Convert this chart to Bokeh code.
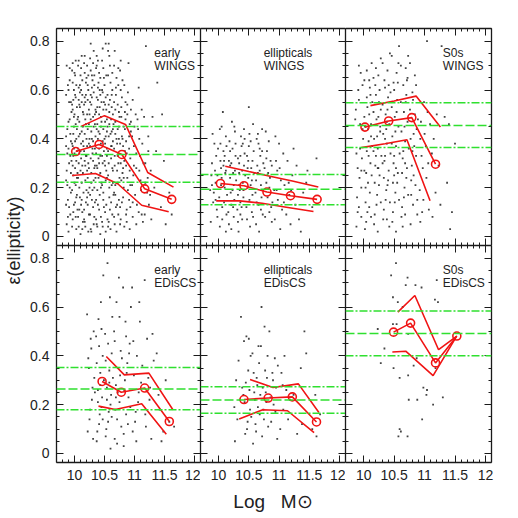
import numpy as np
from bokeh.plotting import figure
from bokeh.models import LinearAxis, FixedTicker, Span, Label
from bokeh.layouts import row, column
from bokeh.core.properties import value
from bokeh.embed import file_html
from bokeh.resources import INLINE

# ---------------- data ----------------
morph_types = ["early", "ellipticals", "S0s"]
surveys = ["WINGS", "EDisCS"]
x_ticks = [10, 10.5, 11, 11.5, 12]
x_tick_labels = ["10", "10.5", "11", "11.5", "12"]
y_ticks = [0, 0.2, 0.4, 0.6, 0.8]
y_tick_labels = ["0", "0.2", "0.4", "0.6", "0.8"]
x_title = "Log\u00a0\u00a0\u00a0M\u2299"
y_title = "\u03b5(ellipticity)"

# individual galaxies (log mass, ellipticity)
pts_early_wings = [
 (9.87,.05),(9.91,.12),(9.88,.21),(9.93,.33),(9.86,.41),(9.90,.47),(9.94,.55),(9.89,.62),(9.92,.69),(9.87,.27),(9.94,.18),(9.90,.36),(9.86,.58),(9.93,.09),(9.88,.44),(9.91,.30),(9.95,.51),(9.89,.15),(9.92,.64),(9.86,.23),(9.94,.39),(9.90,.02),
 (9.97,.07),(10.01,.14),(9.98,.25),(10.03,.31),(9.96,.38),(10.02,.46),(10.04,.53),(9.99,.60),(10.00,.67),(9.97,.71),(10.03,.03),(9.96,.19),(10.01,.28),(10.04,.35),(9.98,.42),(10.02,.57),(9.99,.49),(10.05,.11),(9.97,.63),(10.00,.22),(10.03,.40),(9.96,.54),(10.04,.17),(9.98,.33),(10.01,.66),(10.02,.08),(9.99,.45),(10.05,.26),(9.97,.37),(10.00,.50),
 (10.07,.04),(10.11,.13),(10.08,.20),(10.13,.29),(10.06,.36),(10.12,.43),(10.14,.51),(10.09,.59),(10.10,.66),(10.07,.72),(10.13,.10),(10.06,.24),(10.11,.32),(10.14,.39),(10.08,.47),(10.12,.55),(10.09,.62),(10.15,.18),(10.07,.41),(10.10,.27),(10.13,.58),(10.06,.49),(10.14,.06),(10.08,.34),(10.11,.69),(10.12,.15),(10.09,.53),(10.15,.37),(10.07,.61),(10.10,.01),
 (10.17,.06),(10.21,.16),(10.18,.23),(10.23,.30),(10.16,.35),(10.22,.44),(10.24,.52),(10.19,.58),(10.20,.65),(10.17,.74),(10.23,.02),(10.16,.11),(10.21,.27),(10.24,.38),(10.18,.48),(10.22,.56),(10.19,.63),(10.25,.20),(10.17,.42),(10.20,.33),(10.23,.60),(10.16,.54),(10.24,.09),(10.18,.29),(10.21,.70),(10.22,.13),(10.19,.46),(10.25,.40),(10.17,.67),(10.20,.19),
 (10.27,.03),(10.31,.12),(10.28,.22),(10.33,.28),(10.26,.37),(10.32,.45),(10.34,.50),(10.29,.57),(10.30,.64),(10.27,.79),(10.33,.08),(10.26,.17),(10.31,.31),(10.34,.36),(10.28,.43),(10.32,.59),(10.29,.66),(10.35,.24),(10.27,.48),(10.30,.34),(10.33,.62),(10.26,.55),(10.34,.14),(10.28,.26),(10.31,.71),(10.32,.05),(10.29,.40),(10.35,.52),(10.27,.68),(10.30,.19),
 (10.37,.05),(10.41,.11),(10.38,.19),(10.43,.26),(10.36,.34),(10.42,.42),(10.44,.49),(10.39,.56),(10.40,.63),(10.37,.70),(10.43,.01),(10.36,.15),(10.41,.30),(10.44,.38),(10.38,.46),(10.42,.53),(10.39,.61),(10.45,.22),(10.37,.44),(10.40,.32),(10.43,.58),(10.36,.51),(10.44,.08),(10.38,.28),(10.41,.67),(10.42,.17),(10.39,.40),(10.45,.47),(10.37,.74),(10.40,.24),
 (10.47,.04),(10.51,.10),(10.48,.18),(10.53,.27),(10.46,.33),(10.52,.41),(10.54,.48),(10.49,.55),(10.50,.62),(10.47,.77),(10.53,.13),(10.46,.21),(10.51,.29),(10.54,.36),(10.48,.44),(10.52,.57),(10.49,.65),(10.55,.07),(10.47,.39),(10.50,.31),(10.53,.52),(10.46,.60),(10.54,.24),(10.48,.69),(10.51,.47),(10.52,.02),(10.49,.35),(10.55,.58),
 (10.57,.06),(10.61,.14),(10.58,.20),(10.63,.28),(10.56,.35),(10.62,.43),(10.64,.50),(10.59,.56),(10.60,.63),(10.57,.79),(10.63,.09),(10.56,.25),(10.61,.32),(10.64,.39),(10.58,.46),(10.62,.53),(10.59,.70),(10.65,.17),(10.57,.41),(10.60,.03),(10.63,.60),(10.56,.66),(10.64,.22),(10.58,.74),(10.61,.48),(10.62,.37),
 (10.67,.05),(10.71,.13),(10.68,.21),(10.73,.30),(10.66,.36),(10.72,.44),(10.74,.51),(10.69,.58),(10.70,.65),(10.67,.76),(10.73,.09),(10.66,.18),(10.71,.27),(10.74,.40),(10.68,.47),(10.72,.54),(10.69,.61),(10.75,.24),(10.67,.33),(10.70,.02),(10.73,.69),(10.66,.55),(10.74,.15),(10.68,.42),
 (10.77,.07),(10.81,.16),(10.78,.23),(10.83,.31),(10.76,.38),(10.82,.45),(10.84,.51),(10.79,.57),(10.80,.64),(10.77,.72),(10.83,.04),(10.76,.12),(10.81,.28),(10.84,.35),(10.78,.49),(10.82,.20),(10.79,.41),(10.85,.55),(10.77,.60),(10.80,.26),
 (10.87,.06),(10.91,.15),(10.88,.24),(10.93,.32),(10.86,.39),(10.92,.46),(10.94,.52),(10.89,.59),(10.90,.71),(10.87,.11),(10.93,.21),(10.86,.29),(10.91,.36),(10.94,.43),(10.88,.50),(10.92,.03),
 (10.97,.08),(11.01,.17),(10.98,.25),(11.03,.34),(10.96,.41),(11.02,.50),(11.04,.13),(10.99,.29),(11.00,.45),(10.97,.56),(11.03,.05),(10.96,.21),
 (11.07,.10),(11.11,.19),(11.08,.27),(11.13,.38),(11.06,.44),(11.12,.52),(11.14,.06),(11.09,.33),(11.10,.23),(11.07,.61),
 (11.17,.09),(11.21,.18),(11.18,.30),(11.23,.41),(11.16,.49),(11.22,.24),(11.19,.78),(11.24,.13),
 (11.28,.07),(11.33,.20),(11.30,.49),(11.36,.35),(11.27,.27),(11.38,.63),
 (11.44,.12),(11.49,.31),(11.52,.05),(11.46,.50),(11.58,.18),(11.62,.09),
 (9.88,.34),(9.92,.48),(9.86,.13),(9.94,.26),(9.90,.60),(9.87,.70),(9.93,.42),(9.89,.08),(9.91,.55),(9.95,.31),(9.86,.37),(9.92,.20),
 (9.96,.04),(10.02,.21),(9.98,.56),(10.04,.44),(9.97,.29),(10.01,.39),(10.03,.62),(9.99,.13),(10.05,.48),(9.96,.68),(10.00,.34),(10.02,.72),(9.98,.10),(10.04,.24),(9.97,.52),(10.01,.58),(10.03,.16),(9.99,.36),
 (10.06,.08),(10.12,.22),(10.08,.54),(10.14,.45),(10.07,.30),(10.11,.38),(10.13,.64),(10.09,.16),(10.15,.50),(10.06,.70),(10.10,.35),(10.12,.74),(10.08,.11),(10.14,.26),(10.07,.56),(10.11,.60),(10.13,.03),(10.09,.42),
 (10.16,.07),(10.22,.24),(10.18,.55),(10.24,.46),(10.17,.31),(10.21,.37),(10.23,.66),(10.19,.14),(10.25,.50),(10.16,.71),(10.20,.40),(10.22,.62),(10.18,.04),(10.24,.28),(10.17,.57),(10.21,.50),(10.23,.18),(10.19,.33),
 (10.26,.09),(10.32,.23),(10.28,.54),(10.34,.46),(10.27,.32),(10.31,.39),(10.33,.66),(10.29,.15),(10.35,.41),(10.26,.73),(10.30,.36),(10.32,.76),(10.28,.02),(10.34,.29),(10.27,.58),(10.31,.49),(10.33,.20),(10.29,.61),
 (10.36,.07),(10.42,.25),(10.38,.53),(10.44,.45),(10.37,.29),(10.41,.36),(10.43,.65),(10.39,.13),(10.45,.55),(10.36,.69),(10.40,.43),(10.42,.60),(10.38,.04),(10.44,.20),(10.37,.57),(10.41,.50),(10.43,.33),(10.39,.72),
 (10.46,.06),(10.52,.23),(10.48,.52),(10.54,.43),(10.47,.30),(10.51,.38),(10.53,.66),(10.49,.12),(10.55,.45),(10.46,.72),(10.50,.40),(10.52,.79),(10.48,.15),(10.54,.33),(10.47,.59),(10.51,.54),
 (10.56,.04),(10.62,.21),(10.58,.51),(10.64,.44),(10.57,.30),(10.61,.37),(10.63,.67),(10.59,.11),(10.65,.46),(10.56,.76),(10.60,.42),(10.62,.58),(10.58,.16),(10.64,.27),(10.57,.54),
 (10.66,.08),(10.72,.22),(10.68,.52),(10.74,.45),(10.67,.29),(10.71,.38),(10.73,.62),(10.69,.12),(10.75,.49),(10.66,.70),(10.70,.40),(10.72,.33),(10.68,.17),
 (10.76,.05),(10.82,.24),(10.78,.53),(10.84,.44),(10.77,.30),(10.81,.37),(10.83,.62),(10.79,.14),(10.85,.48),(10.76,.68),(10.80,.40),
 (10.86,.09),(10.92,.27),(10.88,.54),(10.94,.47),(10.87,.34),(10.91,.41),(10.93,.12),(10.89,.19),
 (10.97,.14),(11.03,.28),(11.08,.40),(11.12,.09),(11.18,.22),(11.23,.35),(11.05,.48),(10.99,.37),(11.15,.30),(11.26,.17)]

pts_ell_wings = [
 (9.87,.06),(9.91,.14),(9.95,.22),(9.89,.30),(9.93,.38),(9.97,.11),(9.88,.25),(9.92,.18),(9.96,.33),(9.90,.42),(9.98,.08),(9.94,.27),(9.86,.19),(9.99,.36),
 (10.02,.04),(10.06,.12),(10.10,.20),(10.04,.28),(10.08,.35),(10.12,.41),(10.01,.16),(10.05,.24),(10.09,.31),(10.13,.09),(10.03,.38),(10.07,.51),(10.11,.26),(10.14,.17),(10.02,.44),(10.06,.07),(10.10,.33),(10.04,.21),(10.12,.02),(10.08,.29),
 (10.17,.05),(10.21,.13),(10.25,.21),(10.19,.29),(10.23,.36),(10.27,.43),(10.16,.10),(10.20,.18),(10.24,.26),(10.28,.33),(10.18,.39),(10.22,.47),(10.26,.15),(10.29,.23),(10.17,.31),(10.21,.03),(10.25,.08),(10.19,.35),(10.23,.19),(10.27,.27),
 (10.32,.06),(10.36,.14),(10.40,.22),(10.34,.30),(10.38,.37),(10.42,.44),(10.31,.11),(10.35,.19),(10.39,.27),(10.43,.34),(10.33,.02),(10.37,.41),(10.41,.16),(10.44,.25),(10.32,.32),(10.36,.09),(10.40,.38),(10.34,.21),(10.42,.29),(10.38,.12),
 (10.47,.07),(10.51,.15),(10.55,.23),(10.49,.31),(10.53,.39),(10.57,.46),(10.46,.12),(10.50,.53),(10.54,.28),(10.58,.35),(10.48,.20),(10.52,.04),(10.56,.17),(10.59,.26),(10.47,.33),(10.51,.42),(10.55,.10),(10.49,.24),
 (10.62,.05),(10.66,.13),(10.70,.21),(10.64,.29),(10.68,.36),(10.72,.44),(10.61,.18),(10.65,.26),(10.69,.33),(10.73,.09),(10.63,.40),(10.67,.02),(10.71,.16),(10.74,.30),(10.62,.23),(10.66,.38),
 (10.77,.08),(10.81,.16),(10.85,.24),(10.79,.32),(10.83,.39),(10.87,.12),(10.76,.28),(10.80,.35),(10.84,.20),(10.88,.06),(10.78,.43),(10.82,.26),(10.86,.31),(10.89,.14),
 (10.93,.07),(10.98,.15),(11.03,.23),(10.95,.31),(11.00,.38),(11.05,.11),(10.92,.19),(10.97,.27),(11.02,.03),(11.07,.34),(10.94,.41),(11.09,.21),
 (11.12,.09),(11.17,.17),(11.22,.25),(11.14,.31),(11.19,.05),(11.24,.36),(11.27,.13),(11.16,.22),(11.29,.29),
 (11.33,.07),(11.40,.18),(11.47,.27),(11.36,.02),(11.55,.12),(11.62,.32),(11.45,.22),
 (9.89,.21),(9.95,.15),(10.03,.31),(10.09,.14),(10.13,.37),(10.05,.45),(10.19,.24),(10.24,.12),(10.28,.38),(10.21,.30),(10.34,.26),(10.39,.07),(10.43,.40),(10.36,.33),(10.48,.28),(10.53,.21),(10.57,.08),(10.50,.37),
 (10.63,.14),(10.68,.27),(10.72,.35),(10.65,.42),(10.79,.22),(10.84,.10),(10.88,.29),(10.96,.19),(11.01,.28),(11.08,.14),(11.20,.19),(10.26,.45),(10.41,.19),(10.56,.31),(10.70,.11),(10.12,.27),(9.98,.25),(10.32,.17)]

pts_s0_wings = [
 (9.88,.04),(9.92,.12),(9.96,.20),(9.90,.28),(9.94,.36),(9.98,.44),(9.87,.52),(9.91,.60),(9.95,.67),(9.89,.16),(9.93,.24),(9.97,.32),(9.99,.40),(9.86,.48),(9.92,.56),(9.96,.08),
 (10.02,.03),(10.06,.10),(10.10,.18),(10.04,.26),(10.08,.33),(10.12,.41),(10.01,.49),(10.05,.57),(10.09,.64),(10.13,.71),(10.03,.14),(10.07,.22),(10.11,.30),(10.14,.37),(10.02,.45),(10.06,.53),(10.10,.61),(10.04,.06),(10.12,.46),(10.08,.39),(10.01,.27),(10.14,.55),(10.05,.68),(10.09,.12),
 (10.17,.05),(10.21,.13),(10.25,.21),(10.19,.29),(10.23,.36),(10.27,.43),(10.16,.51),(10.20,.58),(10.24,.66),(10.28,.73),(10.18,.09),(10.22,.17),(10.26,.25),(10.29,.33),(10.17,.40),(10.21,.48),(10.25,.55),(10.19,.62),(10.23,.02),(10.27,.45),(10.16,.35),(10.20,.69),(10.24,.28),(10.28,.52),
 (10.32,.07),(10.36,.15),(10.40,.23),(10.34,.31),(10.38,.38),(10.42,.46),(10.31,.54),(10.35,.61),(10.39,.68),(10.43,.75),(10.33,.11),(10.37,.19),(10.41,.27),(10.44,.34),(10.32,.42),(10.36,.50),(10.40,.57),(10.34,.64),(10.42,.04),(10.38,.47),(10.31,.30),(10.44,.59),(10.35,.40),(10.39,.21),
 (10.47,.06),(10.51,.14),(10.55,.22),(10.49,.30),(10.53,.37),(10.57,.45),(10.46,.53),(10.50,.60),(10.54,.67),(10.58,.78),(10.48,.10),(10.52,.18),(10.56,.26),(10.59,.34),(10.47,.41),(10.51,.49),(10.55,.56),(10.49,.63),(10.53,.02),(10.57,.71),(10.46,.38),(10.50,.25),
 (10.62,.08),(10.66,.16),(10.70,.24),(10.64,.32),(10.68,.39),(10.72,.47),(10.61,.55),(10.65,.62),(10.69,.69),(10.73,.74),(10.63,.12),(10.67,.20),(10.71,.28),(10.74,.36),(10.62,.43),(10.66,.51),(10.70,.58),(10.64,.04),(10.72,.65),(10.68,.30),
 (10.77,.05),(10.81,.13),(10.85,.21),(10.79,.29),(10.83,.37),(10.87,.44),(10.76,.52),(10.80,.59),(10.84,.66),(10.88,.09),(10.78,.17),(10.82,.25),(10.86,.33),(10.89,.48),(10.77,.40),(10.81,.56),
 (10.93,.06),(10.98,.15),(11.03,.24),(10.95,.33),(11.00,.42),(11.05,.51),(10.92,.19),(10.97,.28),(11.02,.37),(11.07,.11),(10.94,.47),(11.04,.80),
 (11.13,.08),(11.18,.18),(11.23,.29),(11.15,.40),(11.20,.50),(11.26,.13),(11.28,.78),(11.12,.34),
 (11.33,.49),(11.40,.46),(11.37,.22),(11.45,.10),(11.50,.38),(11.42,.03),
 (9.90,.10),(9.94,.46),(9.98,.62),(9.88,.34),(9.96,.27),(9.92,.70),
 (10.03,.20),(10.07,.44),(10.11,.58),(10.05,.35),(10.13,.25),(10.09,.50),(10.01,.64),(10.12,.08),
 (10.18,.22),(10.22,.41),(10.26,.60),(10.20,.33),(10.28,.14),(10.24,.49),(10.16,.65),(10.23,.28),
 (10.33,.24),(10.37,.44),(10.41,.62),(10.35,.33),(10.43,.14),(10.39,.52),(10.31,.71),(10.38,.07),
 (10.48,.22),(10.52,.43),(10.56,.63),(10.50,.33),(10.58,.15),(10.54,.51),(10.46,.74),(10.53,.28),
 (10.63,.26),(10.67,.45),(10.71,.64),(10.65,.35),(10.73,.17),(10.69,.55),(10.61,.70),(10.68,.09),
 (10.78,.23),(10.82,.42),(10.86,.62),(10.80,.35),(10.88,.15),(10.84,.50),(10.76,.71),
 (10.93,.40),(10.99,.55),(11.06,.30),(10.96,.10),(11.09,.46)]

pts_early_ediscs = [
 (10.22,.09),(10.26,.18),(10.30,.27),(10.24,.35),(10.28,.43),(10.32,.50),(10.21,.57),(10.25,.14),(10.29,.22),(10.33,.31),(10.23,.39),(10.27,.47),(10.31,.06),(10.34,.25),
 (10.37,.05),(10.41,.12),(10.45,.19),(10.39,.26),(10.43,.33),(10.47,.40),(10.36,.48),(10.40,.55),(10.44,.62),(10.48,.73),(10.38,.09),(10.42,.16),(10.46,.23),(10.49,.30),(10.37,.37),(10.41,.44),(10.45,.51),(10.39,.21),(10.43,.28),(10.47,.14),
 (10.52,.07),(10.56,.13),(10.60,.20),(10.54,.27),(10.58,.34),(10.62,.41),(10.51,.49),(10.55,.78),(10.59,.64),(10.63,.56),(10.53,.10),(10.57,.17),(10.61,.24),(10.64,.31),(10.52,.38),(10.56,.45),(10.60,.02),(10.54,.22),(10.58,.29),(10.62,.15),
 (10.67,.06),(10.71,.14),(10.75,.21),(10.69,.28),(10.73,.35),(10.77,.42),(10.66,.50),(10.70,.62),(10.74,.72),(10.78,.11),(10.68,.18),(10.72,.25),(10.76,.32),(10.79,.39),(10.67,.46),(10.71,.04),(10.75,.56),(10.69,.23),
 (10.82,.08),(10.86,.16),(10.90,.23),(10.84,.30),(10.88,.37),(10.92,.45),(10.81,.68),(10.85,.54),(10.89,.12),(10.93,.19),(10.83,.26),(10.87,.33),(10.91,.41),(10.94,.60),(10.82,.03),(10.86,.48),
 (10.97,.09),(11.02,.17),(11.07,.25),(10.99,.32),(11.04,.40),(11.09,.54),(10.96,.68),(11.01,.13),(11.06,.21),(11.11,.29),(10.98,.46),(11.03,.05),(11.13,.36),(11.08,.62),
 (11.17,.71),(11.21,.47),(11.25,.22),(11.19,.11),(11.23,.31),(11.28,.06),(11.32,.38),(11.18,.16),(11.26,.27),(11.30,.49),
 (11.37,.41),(11.42,.18),(11.48,.09),(11.52,.30),(11.58,.13),(11.66,.11),(11.45,.05),(11.40,.24)]

pts_ell_ediscs = [
 (10.27,.05),(10.31,.14),(10.35,.22),(10.29,.30),(10.33,.38),(10.37,.56),(10.26,.19),(10.39,.27),
 (10.42,.46),(10.46,.48),(10.50,.47),(10.44,.08),(10.48,.13),(10.52,.18),(10.41,.24),(10.45,.29),(10.49,.34),(10.53,.40),(10.43,.21),(10.47,.10),(10.51,.26),(10.54,.15),
 (10.57,.04),(10.61,.12),(10.65,.19),(10.59,.25),(10.63,.31),(10.67,.37),(10.56,.41),(10.60,.22),(10.64,.28),(10.68,.16),(10.58,.33),(10.62,.09),(10.66,.44),(10.69,.24),
 (10.71,.60),(10.76,.52),(10.84,.50),(10.72,.07),(10.75,.14),(10.79,.21),(10.73,.27),(10.77,.34),(10.81,.40),(10.70,.44),(10.74,.18),(10.78,.25),(10.82,.11),(10.80,.31),
 (10.87,.13),(10.91,.20),(10.95,.27),(10.89,.33),(10.93,.39),(10.97,.06),(10.86,.23),(10.90,.30),(10.94,.17),(10.98,.36),
 (11.02,.10),(11.07,.18),(11.12,.26),(11.04,.33),(11.09,.40),(11.15,.14),(11.18,.22),(11.06,.28),
 (11.24,.24),(11.30,.08),(11.36,.35),(11.42,.50),(11.45,.41),(11.38,.12),
 (11.55,.10),(11.62,.07),(11.68,.16),(11.60,.24)]

pts_s0_ediscs = [
 (10.53,.78),(10.45,.73),(10.72,.72),(10.69,.69),(10.85,.69),(10.95,.68),(11.20,.71),(10.48,.64),(10.56,.62),(11.17,.63),
 (11.22,.62),(10.64,.60),(10.23,.51),(10.48,.53),(10.54,.53),(10.73,.49),(10.34,.43),(10.28,.37),(10.87,.39),(10.49,.35),
 (10.82,.36),(11.18,.35),(10.59,.31),(10.73,.32),(10.98,.27),(11.04,.26),(11.03,.24),(11.30,.23),(11.14,.20),(10.74,.22),
 (10.88,.22),(10.96,.14),(10.59,.10),(10.61,.09),(10.72,.07),(10.57,.07)]

# medians and quartiles of ellipticity in mass bins
med_x = {"early_wings": [10.02,10.41,10.79,11.17,11.62], "ell_wings": [10.03,10.42,10.80,11.19,11.63],
         "s0_wings": [10.02,10.41,10.79,11.18], "early_ediscs": [10.46,10.78,11.17,11.58],
         "ell_ediscs": [10.42,10.82,11.22,11.62], "s0_ediscs": [10.49,10.77,11.18,11.53]}
med_y = {"early_wings": [0.348,0.377,0.336,0.195,0.152], "ell_wings": [0.217,0.208,0.182,0.167,0.152],
         "s0_wings": [0.448,0.473,0.487,0.296], "early_ediscs": [0.295,0.251,0.268,0.131],
         "ell_ediscs": [0.221,0.227,0.232,0.129], "s0_ediscs": [0.497,0.534,0.371,0.481]}
upq_x = {"early_wings": [10.11,10.50,10.85,11.22,11.65], "ell_wings": [10.11,10.50,10.85,11.22,11.65],
         "s0_wings": [10.11,10.50,10.86,11.26], "early_ediscs": [10.53,10.83,11.24,11.64],
         "ell_ediscs": [10.52,10.90,11.32,11.66], "s0_ediscs": [10.56,10.84,11.23,11.53]}
upq_y = {"early_wings": [0.451,0.495,0.459,0.262,0.202], "ell_wings": [0.288,0.266,0.247,0.227,0.203],
         "s0_wings": [0.536,0.555,0.575,0.448], "early_ediscs": [0.397,0.322,0.329,0.179],
         "ell_ediscs": [0.303,0.270,0.285,0.168], "s0_ediscs": [0.579,0.647,0.425,0.481]}
loq_x = {"early_wings": [9.96,10.35,10.72,11.12,11.57], "ell_wings": [9.96,10.35,10.72,11.12,11.57],
         "s0_wings": [9.96,10.35,10.71,11.09], "early_ediscs": [10.40,10.68,11.12,11.53],
         "ell_ediscs": [10.34,10.73,11.14,11.58], "s0_ediscs": [10.47,10.69,11.14,11.52]}
loq_y = {"early_wings": [0.250,0.258,0.216,0.128,0.101], "ell_wings": [0.146,0.146,0.136,0.120,0.102],
         "s0_wings": [0.364,0.380,0.396,0.146], "early_ediscs": [0.194,0.180,0.204,0.079],
         "ell_ediscs": [0.141,0.179,0.175,0.085], "s0_ediscs": [0.416,0.419,0.319,0.478]}
# overall lower quartile, median, upper quartile
levels = {"early_wings": [0.222,0.336,0.451], "ell_wings": [0.130,0.193,0.254], "s0_wings": [0.364,0.455,0.548],
          "early_ediscs": [0.179,0.264,0.352], "ell_ediscs": [0.165,0.219,0.273], "s0_ediscs": [0.400,0.491,0.584]}
points = {"early_wings": pts_early_wings, "ell_wings": pts_ell_wings, "s0_wings": pts_s0_wings,
          "early_ediscs": pts_early_ediscs, "ell_ediscs": pts_ell_ediscs, "s0_ediscs": pts_s0_ediscs}

# ---------------- style ----------------
RED = "#f01414"
GREEN = "#2fe02f"
INK = "#1a1a1a"
FONT = "Liberation Sans"
XR = (9.7, 12.1)
YR = (-0.037, 0.852)
FW = [144, 145, 146]
FH = 217
label_x = [11.33, 10.745, 11.30]

x_minor = [round(v, 2) for v in np.arange(9.7, 12.101, 0.1)]
y_minor = [round(v, 3) for v in np.arange(0.0, 0.851, 0.05)]


def labeled_axis(kind):
    if kind == "x":
        t = FixedTicker(ticks=x_ticks, minor_ticks=x_minor)
        ov = dict(zip(x_ticks, x_tick_labels))
    else:
        t = FixedTicker(ticks=y_ticks, minor_ticks=y_minor)
        ov = dict(zip(y_ticks, y_tick_labels))
    return LinearAxis(ticker=t, major_label_overrides=ov,
                      axis_line_color=INK, axis_line_width=1.3,
                      major_tick_line_color=INK, minor_tick_line_color=INK,
                      major_tick_in=7, major_tick_out=0, minor_tick_in=3, minor_tick_out=0,
                      major_label_text_font=FONT, major_label_text_color="#222",
                      major_label_text_font_size="14px", major_label_standoff=7)


def bare_axes(kind):
    # tick marks only (no labels): long marks and short marks as two tick sets
    majors = x_ticks if kind == "x" else y_ticks
    minors = x_minor if kind == "x" else y_minor
    a1 = LinearAxis(ticker=FixedTicker(ticks=[], minor_ticks=majors),
                    axis_line_color=INK, axis_line_width=1.3,
                    major_tick_in=0, major_tick_out=0, minor_tick_in=7, minor_tick_out=0,
                    minor_tick_line_color=INK)
    a2 = LinearAxis(ticker=FixedTicker(ticks=[], minor_ticks=minors), axis_line_color=None,
                    major_tick_in=0, major_tick_out=0, minor_tick_in=3, minor_tick_out=0,
                    minor_tick_line_color=INK)
    return [a1, a2]


keys = [["early_wings", "ell_wings", "s0_wings"], ["early_ediscs", "ell_ediscs", "s0_ediscs"]]
rows = []
for ri in range(2):
    figs = []
    for ci in range(3):
        k = keys[ri][ci]
        p = figure(frame_width=FW[ci], frame_height=FH, x_range=XR, y_range=YR,
                   x_axis_type=None, y_axis_type=None, output_backend="svg",
                   toolbar_location=None, min_border=0, outline_line_color=None)
        if ri == 0:
            p.min_border_top = 28
        else:
            p.min_border_bottom = 50
        if ci == 0:
            p.min_border_left = 30
        if ci == 2:
            p.min_border_right = 8

        if ri == 1:
            bx = labeled_axis("x")
            if ci == 1:
                bx.axis_label = x_title
                bx.axis_label_text_font = FONT
                bx.axis_label_text_font_size = "19px"
                bx.axis_label_text_font_style = "normal"
                bx.axis_label_text_color = "#222"
                bx.axis_label_standoff = 8
            p.add_layout(bx, "below")
        else:
            for a in bare_axes("x"):
                p.add_layout(a, "below")
        for a in bare_axes("x"):
            p.add_layout(a, "above")
        if ci == 0:
            p.add_layout(labeled_axis("y"), "left")
        else:
            for a in bare_axes("y"):
                p.add_layout(a, "left")
        for a in bare_axes("y"):
            p.add_layout(a, "right")

        xs = [q[0] for q in points[k]]
        ys = [q[1] for q in points[k]]
        p.scatter(xs, ys, marker="square", size=1.8, fill_color="#222", line_color=None, fill_alpha=0.85)

        lo, md, hi = levels[k]
        p.add_layout(Span(location=lo, dimension="width", line_color=GREEN, line_width=1.5, line_dash="8 2 2 2"))
        p.add_layout(Span(location=md, dimension="width", line_color=GREEN, line_width=1.5, line_dash="9 3"))
        p.add_layout(Span(location=hi, dimension="width", line_color=GREEN, line_width=1.5, line_dash="8 2 2 2"))

        p.line(upq_x[k], upq_y[k], line_color=RED, line_width=1.6)
        p.line(loq_x[k], loq_y[k], line_color=RED, line_width=1.6)
        p.line(med_x[k], med_y[k], line_color=RED, line_width=1.6)
        p.scatter(med_x[k], med_y[k], marker="circle", size=8, fill_color=None,
                  line_color=RED, line_width=1.6)

        p.text(x=[label_x[ci], label_x[ci]], y=[0.75, 0.70], text=[morph_types[ci], surveys[ri]],
               text_font=value(FONT), text_font_size="12px", text_color="#222",
               text_align="left", text_baseline="alphabetic")
        figs.append(p)
    rows.append(row(*figs))

grid = column(*rows)

H = 512
lab = figure(width=26, height=H, x_axis_type=None, y_axis_type=None, output_backend="svg",
             toolbar_location=None, min_border=0, outline_line_color=None)
lab.add_layout(Label(x=13, y=H - 240, x_units="screen", y_units="screen", text=y_title,
                     angle=np.pi / 2, text_align="center", text_baseline="middle",
                     text_font=FONT, text_font_size="18px", text_color="#222"))

layout = row(lab, grid)
open("out.html", "w").write(file_html(layout, INLINE))
